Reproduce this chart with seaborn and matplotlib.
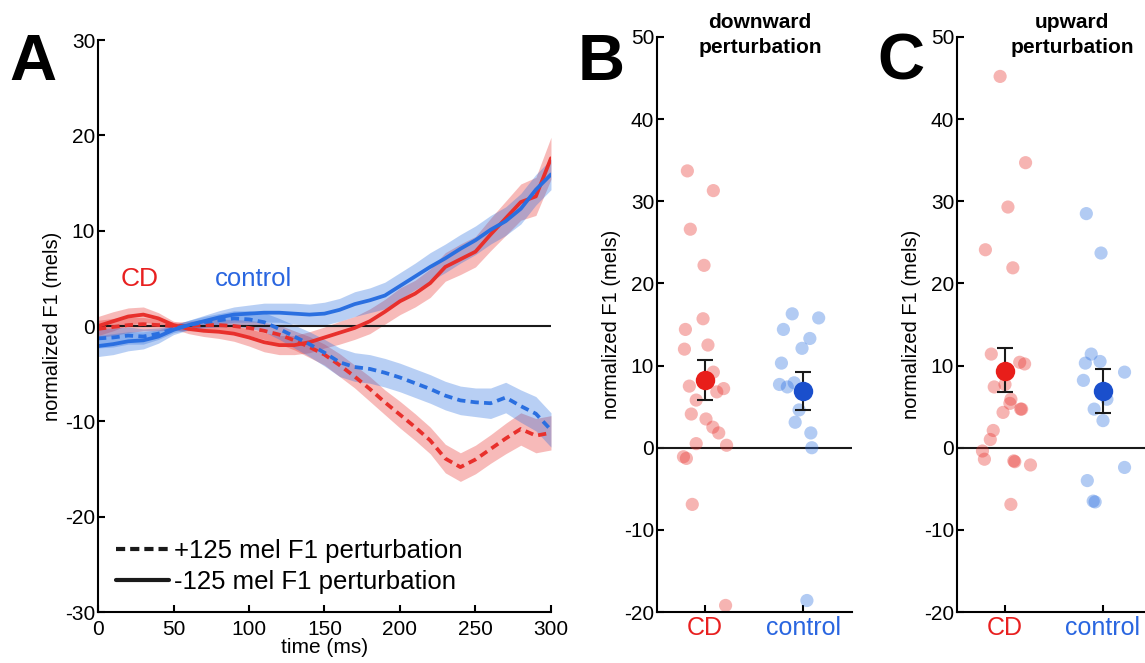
import numpy as np
import matplotlib
matplotlib.use("Agg")
import matplotlib.pyplot as plt
from matplotlib.lines import Line2D
import seaborn as sns

# panel A: mean F1 traces (mels) every 10 ms
time_ms = [0, 10, 20, 30, 40, 50, 60, 70, 80, 90, 100, 110, 120, 130, 140, 150,
           160, 170, 180, 190, 200, 210, 220, 230, 240, 250, 260, 270, 280, 290, 300]

cd_down = [0.0, 0.5, 1.0, 1.2, 0.8, 0.1, -0.3, -0.5, -0.6, -0.8, -1.2, -1.7, -2.0, -2.0, -1.7, -1.2,
           -0.7, -0.2, 0.5, 1.5, 2.6, 3.4, 4.5, 6.2, 7.0, 7.8, 9.6, 11.3, 13.0, 13.6, 17.6]
ctrl_down = [-2.1, -1.9, -1.6, -1.5, -1.1, -0.4, 0.1, 0.5, 0.9, 1.2, 1.3, 1.4, 1.4, 1.3, 1.2, 1.3,
             1.7, 2.3, 2.7, 3.2, 4.2, 5.2, 6.2, 7.1, 8.1, 9.0, 10.1, 11.0, 12.3, 14.3, 15.9]
cd_up = [-0.3, -0.1, 0.1, 0.2, 0.1, 0.0, 0.0, 0.1, 0.1, 0.0, -0.2, -0.5, -0.9, -1.5, -2.2, -3.0,
         -4.1, -5.3, -6.6, -8.0, -9.3, -10.6, -12.0, -13.9, -14.8, -14.0, -12.9, -11.8, -10.8, -11.5, -11.2]
ctrl_up = [-1.3, -1.2, -1.0, -1.1, -0.8, -0.3, 0.1, 0.4, 0.6, 0.8, 0.7, 0.4, -0.3, -1.1, -1.9, -2.8,
           -3.8, -4.3, -4.5, -4.9, -5.4, -6.0, -6.6, -7.3, -7.8, -8.0, -8.1, -7.5, -8.4, -9.2, -10.9]

cd_down_sem = [1.0, 1.0, 0.9, 0.8, 0.6, 0.4, 0.5, 0.6, 0.7, 0.8, 0.9, 1.0, 1.0, 1.0, 1.1, 1.1,
               1.2, 1.2, 1.3, 1.3, 1.4, 1.4, 1.5, 1.5, 1.6, 1.6, 1.7, 1.8, 1.9, 2.0, 2.2]
ctrl_down_sem = [1.1, 1.1, 1.0, 0.9, 0.7, 0.5, 0.5, 0.6, 0.7, 0.8, 0.9, 1.0, 1.0, 1.1, 1.1, 1.2,
                 1.2, 1.3, 1.3, 1.4, 1.4, 1.4, 1.5, 1.5, 1.5, 1.5, 1.5, 1.5, 1.6, 1.6, 1.6]
cd_up_sem = [0.9, 0.9, 0.8, 0.7, 0.6, 0.4, 0.5, 0.6, 0.6, 0.7, 0.8, 0.9, 1.0, 1.0, 1.1, 1.1,
             1.2, 1.2, 1.3, 1.3, 1.4, 1.4, 1.4, 1.5, 1.5, 1.5, 1.5, 1.6, 1.7, 1.8, 1.8]
ctrl_up_sem = [1.0, 1.0, 0.9, 0.8, 0.6, 0.4, 0.5, 0.6, 0.7, 0.8, 0.9, 1.0, 1.1, 1.2, 1.3, 1.4,
               1.5, 1.5, 1.5, 1.5, 1.5, 1.5, 1.5, 1.5, 1.5, 1.5, 1.6, 1.6, 1.7, 1.8, 1.8]

# panel B: downward perturbation, per-subject values and jitter offsets
b_cd_x = [-0.18, 0.085, -0.15, -0.01, -0.02, -0.2, 0.03, -0.21, 0.085, -0.16, 0.19, 0.12,
          -0.09, -0.14, 0.01, 0.08, 0.14, -0.09, 0.22, -0.22, -0.19, -0.13, 0.21]
b_cd_y = [33.7, 31.3, 26.6, 22.2, 15.7, 14.4, 12.5, 12.0, 9.2, 7.5, 7.2, 6.8,
          5.8, 4.1, 3.5, 2.5, 1.8, 0.5, 0.3, -1.1, -1.3, -6.9, -19.2]
b_ctrl_x = [-0.11, 0.16, -0.2, 0.07, -0.01, -0.22, -0.24, -0.16, -0.09, -0.04, -0.08, 0.08, 0.09, 0.04]
b_ctrl_y = [16.3, 15.8, 14.4, 13.3, 12.1, 10.3, 7.7, 7.4, 7.9, 4.6, 3.1, 1.8, 0.0, -18.6]
b_mean = [8.2, 6.9]
b_low = [5.8, 4.6]
b_high = [10.7, 9.2]

# panel C: upward perturbation
c_cd_x = [-0.05, 0.21, 0.03, -0.2, 0.08, -0.14, 0.15, 0.2, -0.11, 0.0, 0.06, 0.05,
          0.16, 0.17, -0.02, -0.12, -0.15, -0.23, -0.21, 0.09, 0.1, 0.26, 0.06]
c_cd_y = [45.2, 34.7, 29.3, 24.1, 21.9, 11.4, 10.4, 10.2, 7.4, 7.7, 5.9, 5.4,
          4.7, 4.7, 4.3, 2.1, 1.0, -0.4, -1.4, -1.6, -1.7, -2.1, -6.9]
c_ctrl_x = [-0.17, -0.02, -0.12, -0.18, -0.03, 0.22, -0.2, 0.04, -0.09, 0.0, 0.22, -0.16, -0.1, -0.08]
c_ctrl_y = [28.5, 23.7, 11.4, 10.3, 10.5, 9.2, 8.2, 5.9, 4.7, 3.3, -2.4, -4.0, -6.5, -6.6]
c_mean = [9.4, 6.9]
c_low = [6.8, 4.2]
c_high = [12.1, 9.6]

groups = ["CD", "control"]

RED = "#E8302C"
BLUE = "#2A6FE0"
RED_MEAN = "#E81E1A"
BLUE_MEAN = "#1A4FCC"
RED_TXT = "#E82020"
BLUE_TXT = "#2A66E0"

sns.set_theme(style="ticks")
plt.rcParams["font.family"] = ["Liberation Sans", "DejaVu Sans"]
plt.rcParams["axes.unicode_minus"] = False
for k in ["text.color", "axes.labelcolor", "axes.edgecolor", "xtick.color", "ytick.color"]:
    plt.rcParams[k] = "black"
plt.rcParams["axes.linewidth"] = 1.5
plt.rcParams["xtick.major.width"] = 1.5
plt.rcParams["ytick.major.width"] = 1.5
plt.rcParams["xtick.major.size"] = 5
plt.rcParams["ytick.major.size"] = 5
plt.rcParams["xtick.direction"] = "in"
plt.rcParams["ytick.direction"] = "in"

fig = plt.figure(figsize=(11.45, 6.63), dpi=100)
axA = fig.add_axes([0.0856, 0.0769, 0.3956, 0.8627])
axB = fig.add_axes([0.5738, 0.0769, 0.1703, 0.8673])
axC = fig.add_axes([0.8358, 0.0769, 0.1703, 0.8673])

# ---- panel A ----
t = np.array(time_ms)
dash = (0, (2.2, 1.4))
series = [
    (cd_up, cd_up_sem, RED, dash),
    (cd_down, cd_down_sem, RED, "-"),
    (ctrl_up, ctrl_up_sem, BLUE, dash),
    (ctrl_down, ctrl_down_sem, BLUE, "-"),
]
for vals, sem, col, ls in series:
    v = np.array(vals)
    s = np.array(sem)
    axA.fill_between(t, v - s, v + s, color=col, alpha=0.33, lw=0)
    sns.lineplot(x=t, y=v, ax=axA, color=col, lw=2.7, linestyle=ls)

axA.axhline(0, color="k", lw=1.5, zorder=1)
axA.set_xlim(0, 300)
axA.set_ylim(-30, 30)
axA.set_xticks([0, 50, 100, 150, 200, 250, 300])
axA.set_yticks([-30, -20, -10, 0, 10, 20, 30])
axA.tick_params(axis="y", labelsize=15, pad=2)
axA.tick_params(axis="x", labelsize=15, pad=6)
axA.set_xlabel("time (ms)", fontsize=15, labelpad=-1)
axA.set_ylabel("normalized F1 (mels)", fontsize=14.5, labelpad=2)
sns.despine(ax=axA)
axA.text(15, 4.2, "CD", color=RED_TXT, fontsize=19, va="baseline")
axA.text(77.5, 4.2, "control", color=BLUE_TXT, fontsize=18.5, va="baseline")

handles = [Line2D([0], [0], color="k", lw=3, linestyle=(0, (2.2, 1.2))),
           Line2D([0], [0], color="k", lw=3, linestyle="-")]
axA.legend(handles, ["+125 mel F1 perturbation", "-125 mel F1 perturbation"],
           loc="upper left", bbox_to_anchor=(0.04, 0.127), frameon=False,
           fontsize=18.5, handlelength=2.05, handletextpad=0.2, labelspacing=0.25,
           borderaxespad=0, borderpad=0)

# ---- panels B and C ----
def scatter_panel(ax, cd_x, cd_y, ctrl_x, ctrl_y, mean, low, high):
    sns.scatterplot(x=np.array(cd_x) + 0, y=cd_y, ax=ax, color=RED, alpha=0.36,
                    s=90, edgecolor="none", zorder=2)
    sns.scatterplot(x=np.array(ctrl_x) + 1, y=ctrl_y, ax=ax, color=BLUE, alpha=0.36,
                    s=90, edgecolor="none", zorder=2)
    m = np.array(mean)
    yerr = [m - np.array(low), np.array(high) - m]
    ax.errorbar([0, 1], m, yerr=yerr, fmt="none", ecolor="k", elinewidth=1.5,
                capsize=6, capthick=1.5, zorder=3)
    ax.plot([0], [m[0]], "o", color=RED_MEAN, ms=14, mec="none", zorder=4)
    ax.plot([1], [m[1]], "o", color=BLUE_MEAN, ms=14, mec="none", zorder=4)
    ax.axhline(0, color="k", lw=1.5, zorder=1)
    ax.set_xlim(-0.49, 1.5)
    ax.set_ylim(-20, 50)
    ax.set_yticks([-20, -10, 0, 10, 20, 30, 40, 50])
    ax.set_xticks([0, 1])
    ax.set_xticklabels(groups)
    ax.tick_params(axis="y", labelsize=15, pad=2)
    ax.tick_params(axis="x", labelsize=18, pad=3)
    ax.get_xticklabels()[0].set_color(RED_TXT)
    ax.get_xticklabels()[1].set_color(BLUE_TXT)
    ax.set_ylabel("normalized F1 (mels)", fontsize=14.5, labelpad=2)
    sns.despine(ax=ax)

scatter_panel(axB, b_cd_x, b_cd_y, b_ctrl_x, b_ctrl_y, b_mean, b_low, b_high)
scatter_panel(axC, c_cd_x, c_cd_y, c_ctrl_x, c_ctrl_y, c_mean, c_low, c_high)

fig.text(760 / 1145, 1 - 35 / 663, "downward\nperturbation", ha="center", va="center",
         fontsize=15, fontweight="bold", linespacing=1.35)
fig.text(1072 / 1145, 1 - 35 / 663, "upward\nperturbation", ha="center", va="center",
         fontsize=15, fontweight="bold", linespacing=1.35)

fig.text(33 / 1145, 1 - 63 / 663, "A", ha="center", va="center", fontsize=47, fontweight="bold")
fig.text(601 / 1145, 1 - 63 / 663, "B", ha="center", va="center", fontsize=47, fontweight="bold")
fig.text(901 / 1145, 1 - 63 / 663, "C", ha="center", va="center", fontsize=47, fontweight="bold")

fig.savefig("out.png", dpi=100)
